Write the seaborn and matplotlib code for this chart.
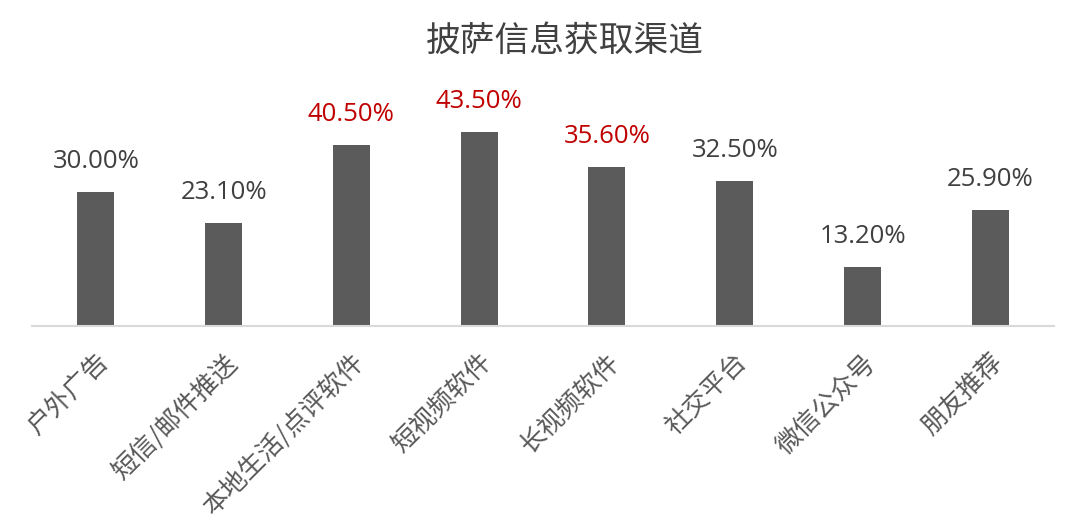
import matplotlib
matplotlib.use("Agg")
import matplotlib.pyplot as plt
import seaborn as sns
import pandas as pd

categories = ["户外广告", "短信/邮件推送", "本地生活/点评软件", "短视频软件",
              "长视频软件", "社交平台", "微信公众号", "朋友推荐"]
values = [30.00, 23.10, 40.50, 43.50, 35.60, 32.50, 13.20, 25.90]
highlight = [False, False, True, True, True, False, False, False]
title = "披萨信息获取渠道"

sns.set_theme(style="white")
plt.rcParams['font.family'] = ['Noto Sans CJK SC', 'DejaVu Sans']

df = pd.DataFrame({"cat": categories, "val": values})

fig = plt.figure(figsize=(10.8, 5.32), dpi=100)
ax = fig.add_axes([0.0296, 0.387, 0.9465, 0.42])
sns.barplot(data=df, x="cat", y="val", color="#5B5B5B", saturation=1,
            width=0.29, ax=ax)
for p in ax.patches:
    p.set_edgecolor("none")

ax.set_xlim(-0.5, len(categories) - 0.5)
ax.set_ylim(0, 50)
ax.set_xlabel("")
ax.set_ylabel("")
ax.set_yticks([])
for s in ["top", "right", "left"]:
    ax.spines[s].set_visible(False)
ax.spines["bottom"].set_color("#D9D9D9")
ax.spines["bottom"].set_linewidth(1.5)
ax.tick_params(axis="x", length=0, pad=17)
ax.set_xticks(range(len(categories)))
ax.set_xticklabels(categories, rotation=45, ha="right", va="top",
                   rotation_mode="anchor", fontsize=18.5, color="#595959")

for i, (v, h) in enumerate(zip(values, highlight)):
    ax.annotate(f"{v:.2f}%", xy=(i, v), xytext=(0, 13), textcoords="offset points",
                ha="center", va="bottom", fontsize=18.5,
                color="#C00000" if h else "#404040",
                family=["Open Sans", "DejaVu Sans"])

fig.text(0.523, 0.922, title, ha="center", va="center", fontsize=25,
         color="#404040")

fig.savefig("out.png", dpi=100)
